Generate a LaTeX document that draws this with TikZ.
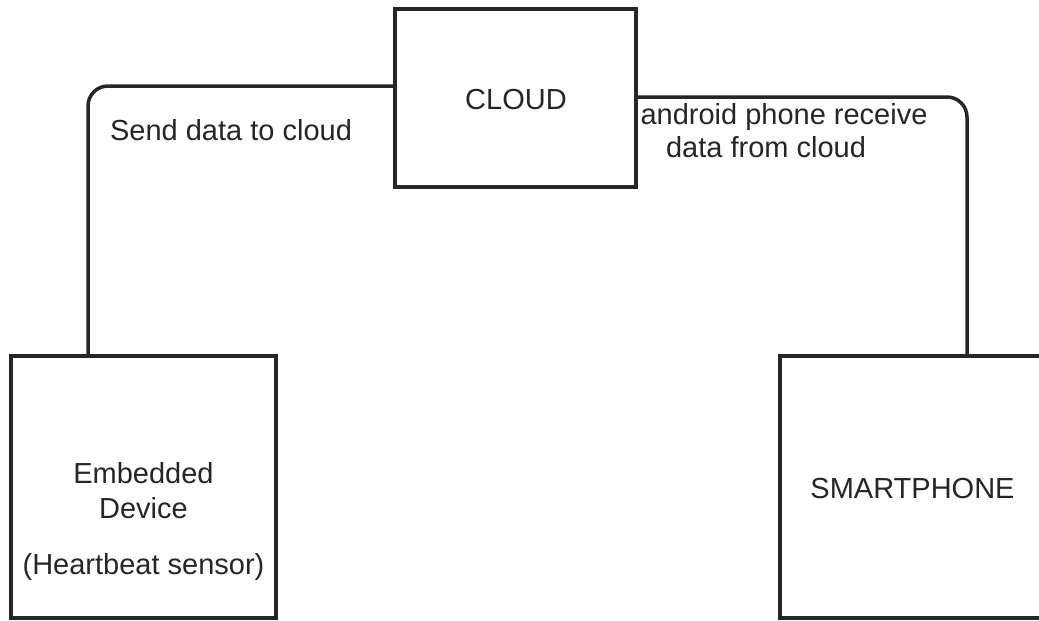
\documentclass[tikz,border=0pt]{standalone}
\usepackage{fontspec}
\setmainfont{Liberation Sans}
\begin{document}
\begin{tikzpicture}[x=1pt,y=-1pt,
  box/.style={draw=black!85, line width=3.5pt, rectangle, outer sep=0pt, inner sep=0pt},
  conn/.style={draw=black!85, line width=3.5pt, rounded corners=20pt},
  txt/.style={font=\fontsize{29}{35}\selectfont, text=black!85, align=center, inner sep=0pt}]
\useasboundingbox (0,0) rectangle (1039,621);
\clip (0,0) rectangle (1039,621);
\fill[white] (0,0) rectangle (1039,621);

% blocks
\node[box, minimum width=241pt, minimum height=178pt] (cloud) at (515.5,98) {};
\node[box, minimum width=265pt, minimum height=262pt] (emb) at (143.5,487) {};
\node[box, minimum width=265pt, minimum height=262pt] (phone) at (912.5,487) {};

% block texts (base anchor sits on the last line)
\node[txt, anchor=base] (cloudtxt) at (516,109) {CLOUD};
\node[txt, anchor=base] (embtxt) at (143.5,574) {Embedded\\Device\\[21pt](Heartbeat sensor)};
\node[txt, anchor=base] (phonetxt) at (912.5,498) {SMARTPHONE};

% links
\draw[conn] ([xshift=77pt]emb.north west) |- ([yshift=12pt]cloud.west);
\draw[conn] ([yshift=1pt]cloud.east) -| ([xshift=54.5pt]phone.north);

% link labels
\node[txt, anchor=base] (sendlbl) at (231,140) {Send data to cloud};
\node[txt, anchor=base, font=\fontsize{29}{33}\selectfont] (recvlbl) at (784,157)
  {android phone receive\\data from cloud\hspace*{36pt}};
\end{tikzpicture}
\end{document}
